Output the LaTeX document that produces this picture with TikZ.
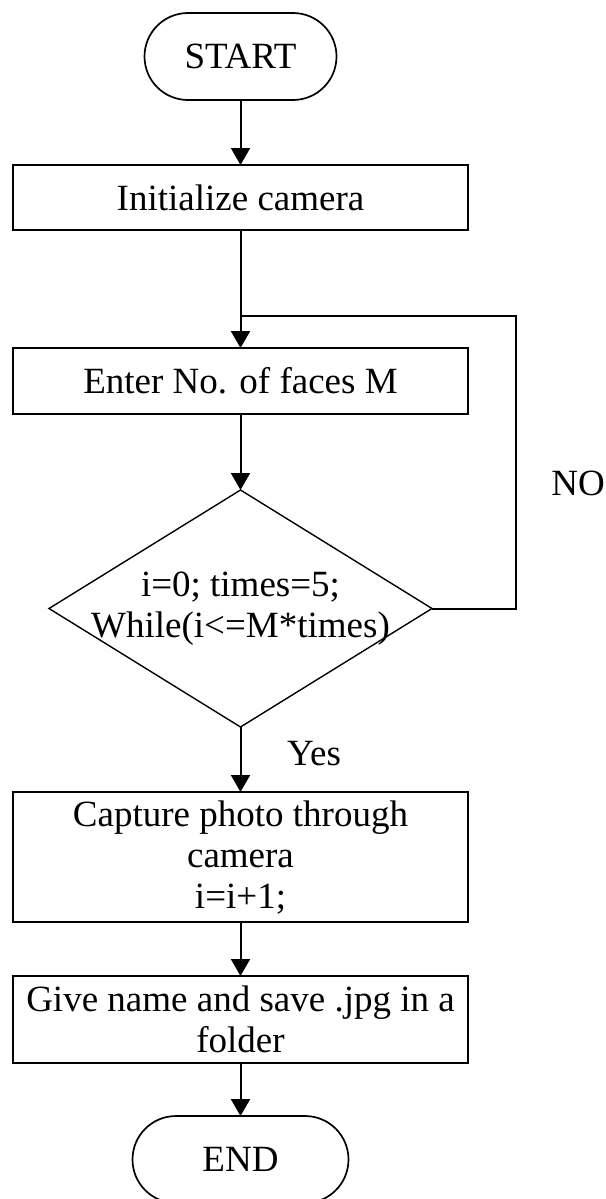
\documentclass[tikz,border=0pt]{standalone}
\usepackage{fontspec}
\setmainfont{Liberation Serif}
\usetikzlibrary{arrows.meta,shapes.geometric}

\begin{document}
\begin{tikzpicture}[x=1pt,y=-1pt,
  every node/.style={font=\fontsize{37}{41}\selectfont, inner sep=0pt, outer sep=0pt, align=center},
  terminal/.style={draw, line width=1.7pt, rounded corners=43.5pt, minimum height=87pt},
  procbox/.style={draw, line width=1.9pt, minimum width=455pt},
  decision/.style={draw, line width=1.4pt, shape=diamond, minimum width=383pt, minimum height=237pt},
  flow/.style={line width=2pt, -{Triangle[length=17pt,width=19pt]}},
  plain/.style={line width=2pt}
]
\useasboundingbox (0,0) rectangle (605,1199);

% terminals, process boxes and the decision
\node[terminal, minimum width=192pt] (start) at (240.5,56.5) {START};
\node[procbox, minimum height=65pt] (init) at (240.5,197.5) {Initialize camera};
\node[procbox, minimum height=66pt] (enter) at (240.5,381) {Enter No. of faces M};
\node[decision] (dec) at (240.5,608.5) {};
\node (dectext) at (dec.center) {i=0; times=5;\\While(i<=M*times)};
\node[procbox, minimum height=130pt] (capture) at (240.5,857) {Capture photo through\\camera\\i=i+1;};
\node[procbox, minimum height=87pt] (save) at (240.5,1019.5) {Give name and save .jpg in a\\folder};
\node[terminal, minimum width=216pt] (end) at (240.5,1159.5) {END};

% branch labels
\node (no) at (578,483) {NO};
\node (yes) at (314,754) {Yes};

% corners of the loop back
\coordinate (loopturn) at (516,316);
\coordinate (loopjoin) at (240.5,316);

% connectors
\draw[flow] (start) -- (init);
\draw[flow] (init) -- (enter);
\draw[flow] (enter) -- (dec.north);
\draw[flow] (dec.south) -- (capture);
\draw[flow] (capture) -- (save);
\draw[flow] (save) -- (end);
\draw[plain, line join=miter] (dec.east) -- (dec.east -| loopturn) -- (loopturn) -- (loopjoin);
\end{tikzpicture}
\end{document}
